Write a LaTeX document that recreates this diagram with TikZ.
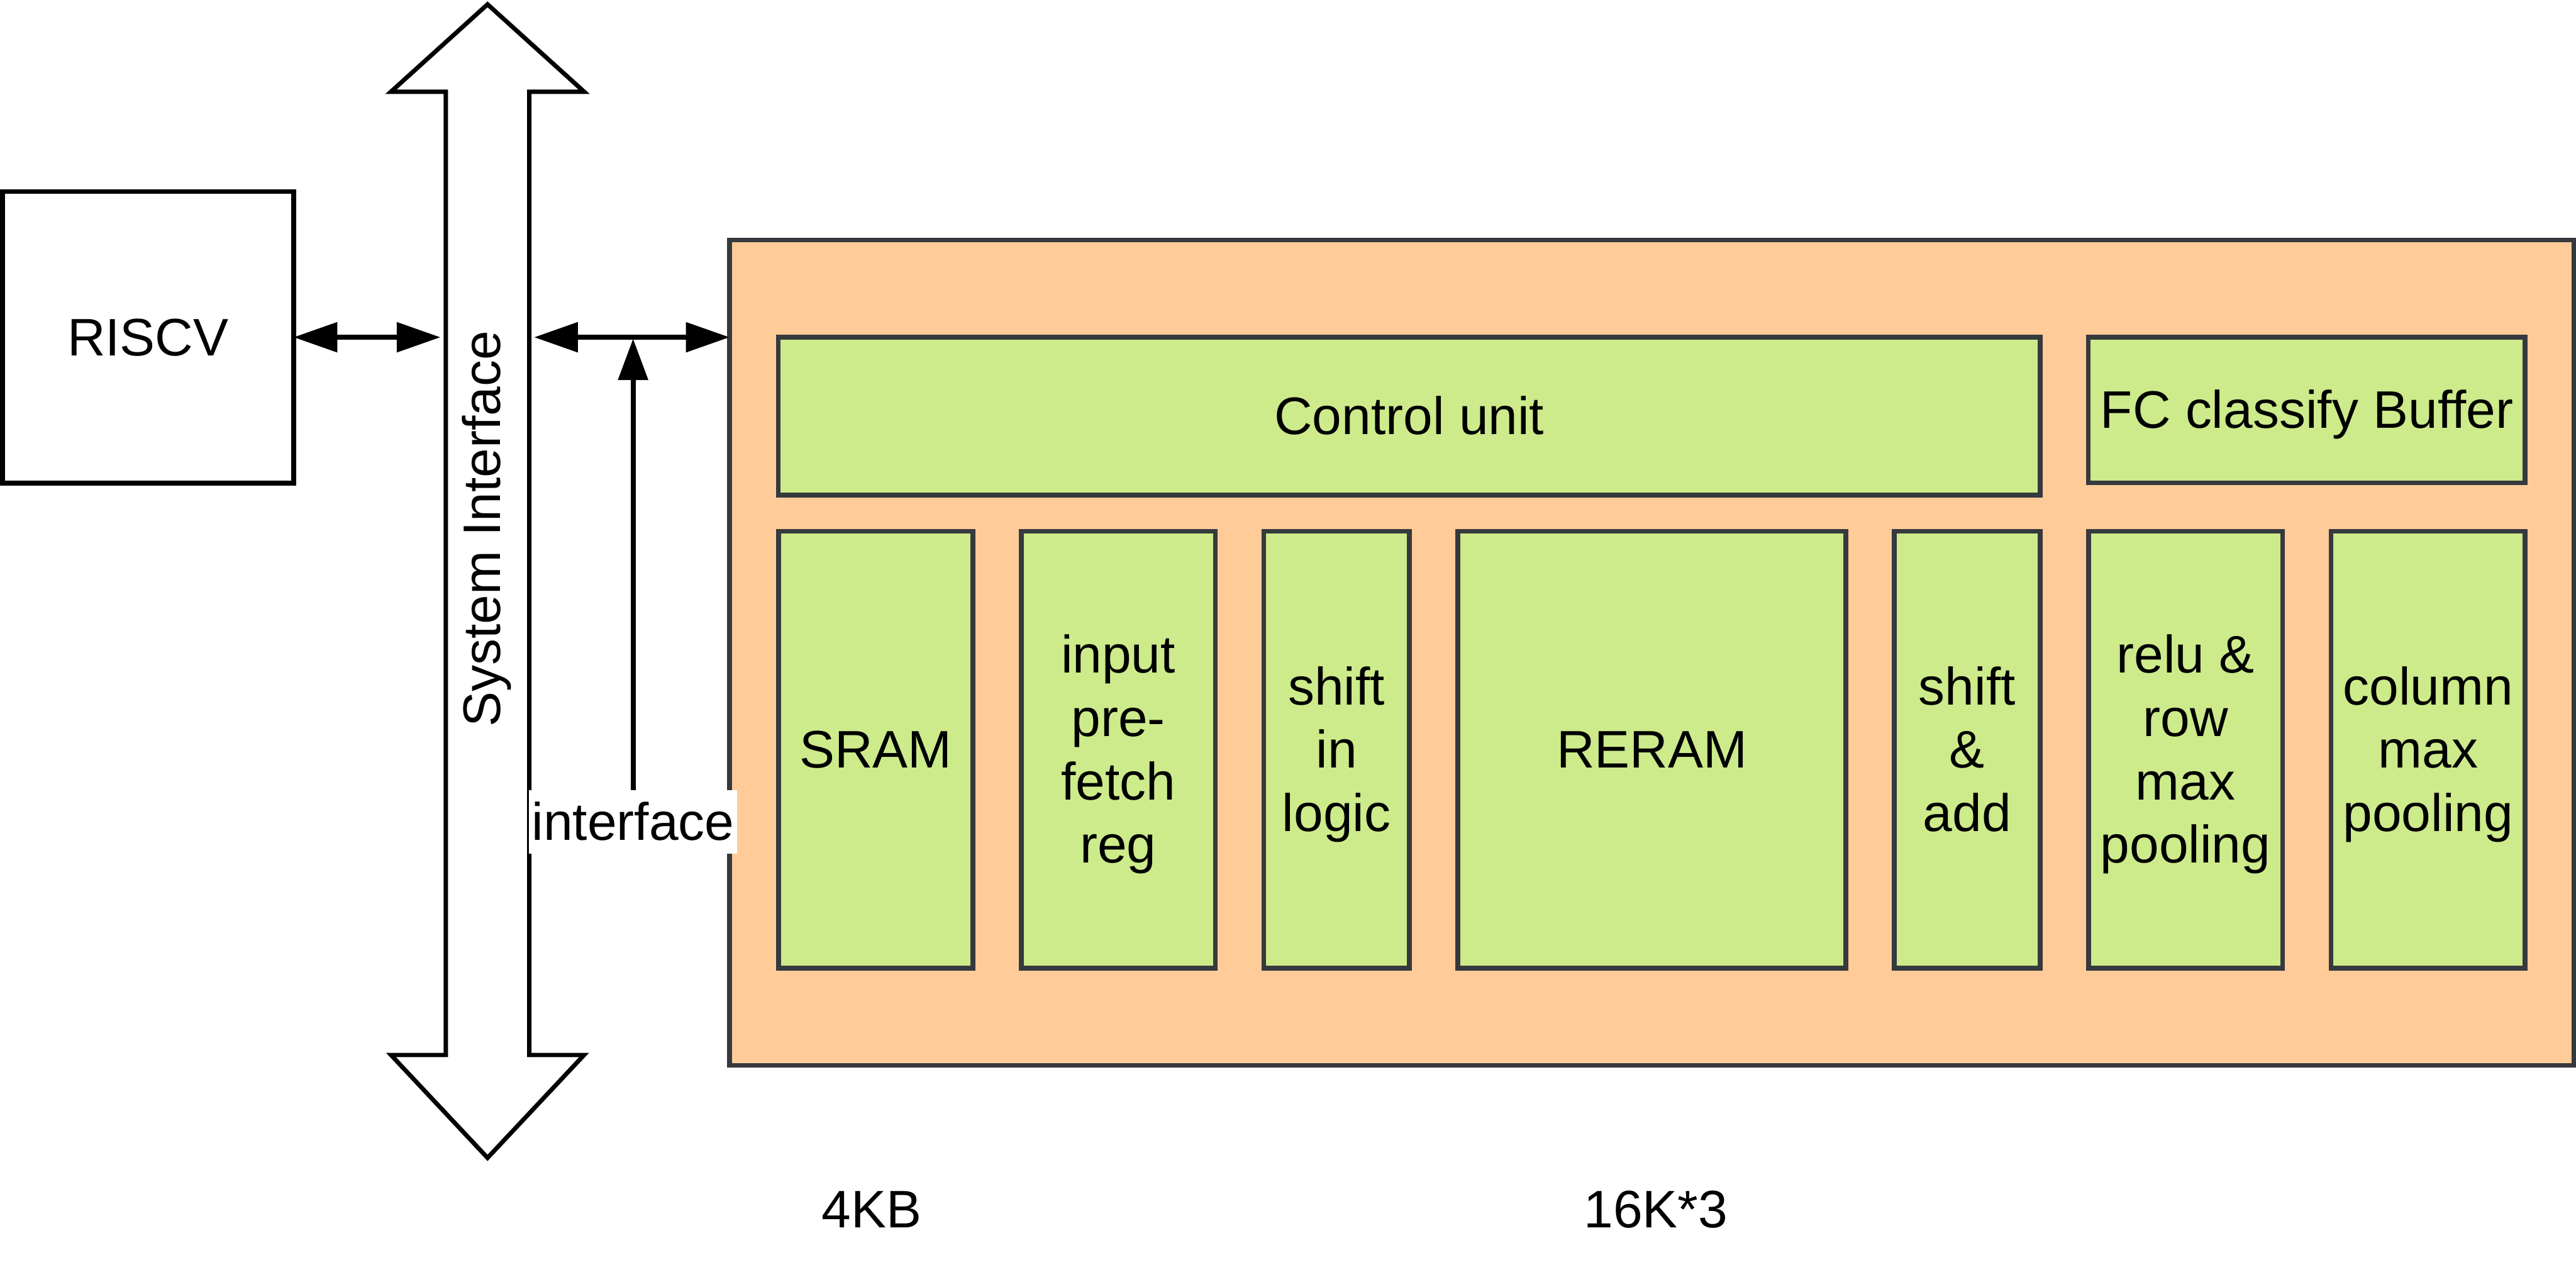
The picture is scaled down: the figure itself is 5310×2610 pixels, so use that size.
\documentclass[tikz,border=0pt]{standalone}
\usepackage{fontspec}
\setmainfont{Liberation Sans}
\usetikzlibrary{arrows.meta}
\definecolor{orangefill}{HTML}{FFCC99}
\definecolor{greenfill}{HTML}{CDEB8B}
\definecolor{darkstroke}{HTML}{36393D}
\newcommand{\ls}{\rule[-0.2535em]{0pt}{1.2em}}
\begin{document}
\begin{tikzpicture}[x=0.01cm, y=-0.01cm,
  every node/.style={font=\fontsize{30.94pt}{37.13pt}\selectfont, inner sep=0pt, outer sep=0pt},
  gbox/.style={draw=darkstroke, fill=greenfill, line width=0.1cm, align=center},
  obox/.style={draw=darkstroke, fill=orangefill, line width=0.1cm},
  wbox/.style={draw=black, fill=white, line width=0.1cm, align=center},
  conn/.style={line width=0.1cm, {Triangle[length=0.9cm,width=0.6cm]}-{Triangle[length=0.9cm,width=0.6cm]}},
  single/.style={line width=0.1cm, -{Triangle[length=0.85cm,width=0.6cm]}},
  busline/.style={draw=black, fill=white, line width=0.09cm}
]
\fill[white] (0,0) rectangle (5310,2610);
\useasboundingbox (0,0) rectangle (5310,2610);

% RISCV
\node[wbox, minimum width=6cm, minimum height=6cm] (riscv) at (305,695) {\ls RISCV};

% System bus (double block arrow)
\node[minimum width=1.72cm, minimum height=19.85cm] (bus) at (1005,1181.5) {};
\draw[busline] (1005,9) -- (1204,189) -- (1091,189) -- (1091,2174) -- (1204,2174)
  -- (1005,2386) -- (806,2174) -- (919,2174) -- (919,189) -- (806,189) -- cycle;
\node[rotate=90] (silabel) at (994,1090) {\ls System Interface};

% accelerator
\node[obox, minimum width=38cm, minimum height=17cm] (core) at (3405,1345) {};
\node[gbox, minimum width=26cm, minimum height=3.25cm] (ctrl) at (2905,857.5) {\ls Control unit};
\node[gbox, minimum width=9cm, minimum height=3cm] (fc) at (4755,845) {\ls FC classify Buffer};

\node[gbox, minimum width=4cm, minimum height=9cm] (sram) at (1805,1545) {\ls SRAM};
\node[gbox, minimum width=4cm, minimum height=9cm] (prefetch) at (2305,1545) {\ls input\\\ls pre-\\\ls fetch\\\ls reg};
\node[gbox, minimum width=3cm, minimum height=9cm] (shiftin) at (2755,1545) {\ls shift\\\ls in\\\ls logic};
\node[gbox, minimum width=8cm, minimum height=9cm] (reram) at (3405,1545) {\ls RERAM};
\node[gbox, minimum width=3cm, minimum height=9cm] (shiftadd) at (4055,1545) {\ls shift\\\ls \&\\\ls add};
\node[gbox, minimum width=4cm, minimum height=9cm] (relu) at (4505,1545) {\ls relu \&\\\ls row\\\ls max\\\ls pooling};
\node[gbox, minimum width=4cm, minimum height=9cm] (colpool) at (5005,1545) {\ls column\\\ls max\\\ls pooling};

% connectors
\draw[conn, shorten >=0.11cm] (riscv.east) -- (riscv.east -| bus.west);
\draw[conn, shorten <=0.1cm] (bus.east |- riscv.east) -- (core.west |- riscv.east);
\node[fill=white, inner xsep=0.06cm] (iflabel) at (1305,1694) {\ls interface};
\draw[single, shorten >=0.03cm] (iflabel.north) -- (iflabel.north |- riscv.east);

% size labels
\node (kb) at (1797,2492) {\ls 4KB};
\node (k3) at (3413,2492) {\ls 16K*3};
\end{tikzpicture}
\end{document}
